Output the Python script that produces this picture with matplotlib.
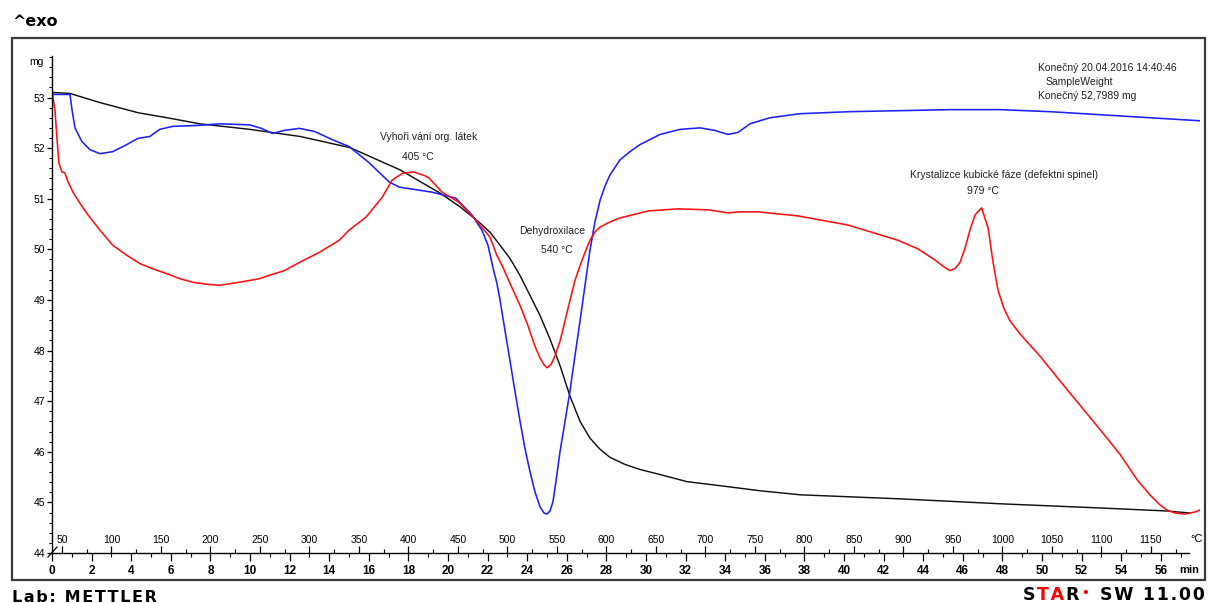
import matplotlib
matplotlib.use("Agg")
import matplotlib.pyplot as plt
from matplotlib.ticker import MultipleLocator, FixedLocator
from matplotlib.patches import Rectangle
from matplotlib.lines import Line2D

NARROW = ['Liberation Sans Narrow', 'Liberation Sans', 'DejaVu Sans']
ARIAL = ['Liberation Sans', 'DejaVu Sans']

# --- measured curves (time in min, signal in mg scale units) ---
tga_time = [0, 0.91, 2.42, 4.34, 5.81, 7.47, 10.0, 12.53, 15.05, 17.58, 19.6,
            20.61, 21.62, 22.12, 22.63, 23.13, 23.64, 24.14, 24.65, 25.15,
            25.66, 26.16, 26.67, 27.17, 27.68, 28.18, 28.94, 29.70, 30.71,
            32.07, 33.74, 35.76, 37.78, 42.83, 48.03, 52.93, 56.31, 57.47]
tga_mass = [53.10, 53.08, 52.90, 52.70, 52.60, 52.48, 52.37, 52.23, 52.01,
            51.57, 51.11, 50.84, 50.52, 50.34, 50.08, 49.82, 49.48, 49.09,
            48.69, 48.23, 47.70, 47.10, 46.60, 46.27, 46.05, 45.89, 45.75,
            45.65, 45.55, 45.41, 45.33, 45.23, 45.15, 45.07, 44.97, 44.89,
            44.83, 44.79]

dtg_time = [0, 0.91, 1.01, 1.16, 1.51, 1.91, 2.42, 3.07, 3.78, 4.33, 4.94,
            5.44, 6.10, 7.46, 8.46, 9.97, 10.58, 11.13, 11.74, 12.49, 13.25,
            14.26, 15.01, 16.02, 17.03, 17.53, 19.19, 20.40, 21.21, 21.71,
            22.02, 22.27, 22.47, 22.63, 22.88, 23.13, 23.38, 23.64, 23.89,
            24.14, 24.39, 24.65, 24.85, 25.0, 25.15, 25.3, 25.45, 25.66,
            25.91, 26.16, 26.41, 26.67, 26.92, 27.17, 27.42, 27.68, 27.93,
            28.18, 28.69, 29.19, 29.70, 30.71, 31.72, 32.73, 33.48, 34.14,
            34.65, 35.25, 36.26, 37.78, 40.30, 42.83, 45.35, 47.88, 50.40,
            52.93, 55.45, 57.98]
dtg_value = [53.06, 53.06, 52.76, 52.40, 52.13, 51.97, 51.89, 51.93, 52.07,
             52.19, 52.23, 52.37, 52.43, 52.45, 52.48, 52.46, 52.39, 52.29,
             52.35, 52.39, 52.33, 52.15, 52.03, 51.71, 51.33, 51.23, 51.13,
             51.01, 50.68, 50.38, 50.08, 49.64, 49.33, 48.99, 48.39, 47.80,
             47.20, 46.60, 46.06, 45.61, 45.21, 44.91, 44.79, 44.77, 44.83,
             45.01, 45.41, 46.01, 46.60, 47.20, 47.89, 48.59, 49.29, 49.98,
             50.54, 50.97, 51.25, 51.47, 51.77, 51.93, 52.07, 52.27, 52.37,
             52.40, 52.35, 52.27, 52.31, 52.48, 52.60, 52.68, 52.72, 52.74,
             52.76, 52.76, 52.72, 52.66, 52.60, 52.54]

dsc_time = [0, 0.05, 0.15, 0.25, 0.35, 0.50, 0.65, 0.81, 1.06, 1.41, 1.82,
            2.42, 3.07, 3.79, 4.43, 5.20, 5.79, 6.46, 7.10, 7.83, 8.46, 9.47,
            10.48, 11.08, 11.74, 12.49, 13.50, 14.51, 15.01, 15.87, 16.68,
            17.18, 17.7, 18.25, 18.8, 19.04, 19.70, 20.55, 21.41, 22.12,
            22.47, 22.78, 23.13, 23.64, 24.04, 24.39, 24.65, 24.85, 25.0,
            25.2, 25.4, 25.66, 25.91, 26.16, 26.41, 26.67, 26.92, 27.17,
            27.42, 27.68, 28.18, 28.69, 30.13, 31.64, 33.15, 34.16, 34.66,
            35.67, 37.68, 40.20, 42.72, 43.73, 44.48, 45.10, 45.35, 45.61,
            45.86, 46.11, 46.36, 46.62, 46.95, 47.28, 47.53, 47.78, 48.08,
            48.38, 48.89, 49.39, 49.90, 50.91, 51.92, 52.93, 53.94, 54.80,
            55.45, 55.96, 56.31, 56.72, 57.22, 57.73, 57.98]
dsc_value = [53.10, 53.00, 52.75, 52.20, 51.70, 51.53, 51.51, 51.33, 51.13,
             50.91, 50.68, 50.38, 50.08, 49.88, 49.72, 49.60, 49.52, 49.42,
             49.35, 49.31, 49.29, 49.35, 49.42, 49.50, 49.58, 49.74, 49.94,
             50.18, 50.38, 50.64, 51.03, 51.37, 51.50, 51.53, 51.46, 51.41,
             51.13, 50.93, 50.58, 50.24, 49.88, 49.64, 49.33, 48.89, 48.49,
             48.09, 47.85, 47.72, 47.66, 47.72, 47.89, 48.19, 48.59, 48.99,
             49.38, 49.68, 49.94, 50.18, 50.34, 50.44, 50.54, 50.62, 50.76,
             50.80, 50.78, 50.72, 50.74, 50.74, 50.66, 50.48, 50.18, 50.01,
             49.82, 49.64, 49.58, 49.62, 49.74, 50.02, 50.38, 50.68, 50.82,
             50.42, 49.74, 49.19, 48.83, 48.59, 48.33, 48.11, 47.89, 47.40,
             46.92, 46.44, 45.95, 45.45, 45.15, 44.95, 44.85, 44.79, 44.77,
             44.81, 44.85]

mass_ticks = list(range(44, 54))
time_ticks = list(range(0, 57, 2))
temp_ticks = list(range(50, 1151, 50))

# peak annotations: (label, time, mg) for each text line
note_lines = [
    ("Vyhoři vání org. látek", 19.0, 52.22),
    ("405 °C", 18.5, 51.83),
    ("Dehydroxilace", 25.25, 50.36),
    ("540 °C", 25.5, 49.98),
    ("Krystalizce kubické fáze (defektni spinel)", 48.1, 51.47),
    ("979 °C", 47.0, 51.15),
]

info_lines = ["Konečný 20.04.2016 14:40:46", "SampleWeight", "Konečný 52,7989 mg"]


def time_to_temp(t):
    return 40 + 20 * t


def temp_to_time(T):
    return (T - 40) / 20


W, H = 1208, 603
fig = plt.figure(figsize=(W / 100, H / 100), dpi=100)
fig.patch.set_facecolor('white')


def fx(px):
    return px / W


def fy(py):
    return (H - py) / H


ax = fig.add_axes([fx(52), fy(553), 1148 / W, 497 / H])
ax.set_xlim(0, 1148 / 19.8)
ax.set_ylim(44, 53.82)
ax.patch.set_alpha(0)

ax.plot(tga_time, tga_mass, color='#111111', lw=1.05)
ax.plot(dtg_time, dtg_value, color='#1f1fff', lw=1.15)
ax.plot(dsc_time, dsc_value, color='#ff1010', lw=1.15)

for s in ('top', 'right'):
    ax.spines[s].set_visible(False)
ax.spines['left'].set_bounds(44, 53.82)
ax.spines['bottom'].set_bounds(0, 57.4)
for s in ('left', 'bottom'):
    ax.spines[s].set_linewidth(1.0)
    ax.spines[s].set_color('black')

# mass axis
ax.yaxis.set_major_locator(FixedLocator(mass_ticks))
ax.yaxis.set_minor_locator(MultipleLocator(0.2))
ax.tick_params(axis='y', which='major', direction='out', length=3.5, width=0.9,
               pad=1.5, labelsize=7.5)
ax.tick_params(axis='y', which='minor', direction='out', length=2.2, width=0.8)
for lab in ax.get_yticklabels():
    lab.set_family(NARROW)

# time axis
ax.xaxis.set_major_locator(FixedLocator(time_ticks))
ax.xaxis.set_minor_locator(MultipleLocator(1))
ax.tick_params(axis='x', which='major', direction='out', length=5.5, width=0.9,
               pad=3.0, labelsize=8.5)
ax.tick_params(axis='x', which='minor', direction='out', length=2.8, width=0.8)
for lab in ax.get_xticklabels():
    lab.set_family(NARROW)
    lab.set_fontweight('bold')

# temperature axis sharing the bottom line
sec = ax.secondary_xaxis('bottom', functions=(time_to_temp, temp_to_time))
sec.spines['bottom'].set_visible(False)
sec.xaxis.set_major_locator(FixedLocator(temp_ticks))
sec.xaxis.set_minor_locator(FixedLocator(list(range(75, 1176, 50))))
sec.tick_params(axis='x', which='major', direction='in', length=5, width=0.9,
                pad=-13, labelsize=7.5)
sec.tick_params(axis='x', which='minor', direction='in', length=3, width=0.8)
for lab in sec.get_xticklabels():
    lab.set_family(NARROW)

fig.text(fx(36), fy(62), 'mg', ha='center', va='center', fontsize=7.5, family=NARROW)
fig.text(fx(1197), fy(539), '°C', ha='center', va='center', fontsize=8, family=NARROW)
fig.text(fx(1189), fy(570), 'min', ha='center', va='center', fontsize=8,
         family=NARROW, fontweight='bold')

# axis break mark at the origin
fig.add_artist(Line2D([fx(48), fx(57)], [fy(557), fy(547)], color='black', lw=0.9))

for label, tx, my in note_lines:
    ax.text(tx, my, label, ha='center', va='center', fontsize=7.5, family=ARIAL,
            color='#222222')

for i, (label, px) in enumerate(zip(info_lines, (1038, 1046, 1038))):
    fig.text(fx(px), fy(68 + 14 * i), label, ha='left', va='center', fontsize=7.5,
             family=NARROW, color='#222222')

# outer frame
fig.add_artist(Rectangle((fx(12), fy(580)), 1193 / W, 542 / H,
                         transform=fig.transFigure, fill=False,
                         lw=1.6, ec='#3a3a3a'))

fig.text(fx(12), fy(22), '^exo', ha='left', va='center', fontsize=11.5,
         fontweight='bold', family='DejaVu Sans')
fig.text(fx(12), fy(597), '\u200a'.join('Lab: METTLER'), ha='left', va='center',
         fontsize=11.5, fontweight='bold', family='DejaVu Sans')

# software stamp, laid out right to left from the frame edge
stamp_font = dict(fontsize=12.5, fontweight='bold', family='DejaVu Sans')
sw = fig.text(fx(1205), fy(604), '\u200a'.join("SW 11.00"), ha='right',
              va='bottom', color='black', **stamp_font)
r = plt.annotate('R', xy=(0, 0), xycoords=sw, xytext=(-15, 0),
                 textcoords='offset points', ha='right', va='bottom',
                 color='black', annotation_clip=False, **stamp_font)
dot = plt.annotate("\u2022", xy=(1, 1), xycoords=r, xytext=(1.5, -1),
                   textcoords='offset points', ha='left', va='top',
                   fontsize=9, fontweight='bold', color='#ff0000',
                   family='DejaVu Sans', annotation_clip=False)
ta = plt.annotate('\u200a'.join("TA") + '\u200a', xy=(0, 0), xycoords=r,
                  ha='right', va='bottom', color='#ff0000',
                  annotation_clip=False, **stamp_font)
s_ = plt.annotate('S\u200a', xy=(0, 0), xycoords=ta, ha='right', va='bottom',
                  color='black', annotation_clip=False, **stamp_font)

fig.savefig('out.png', dpi=100, facecolor='white')
